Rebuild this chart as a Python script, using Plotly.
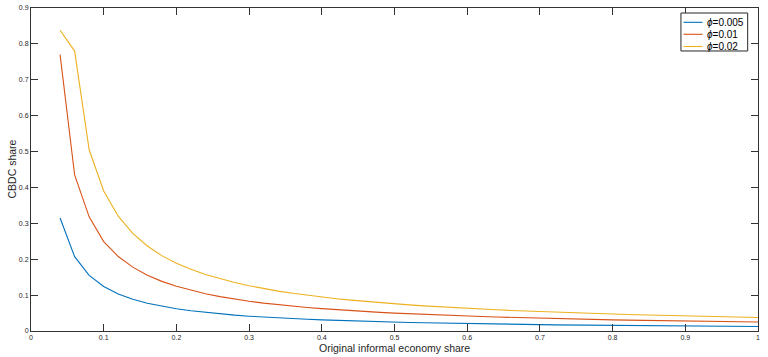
import plotly.graph_objects as go

x_share = [0.04, 0.06, 0.08, 0.10, 0.12, 0.14, 0.16, 0.18, 0.20, 0.22, 0.24, 0.26, 0.28, 0.30,
           0.32, 0.34, 0.36, 0.38, 0.40, 0.42, 0.44, 0.46, 0.48, 0.50, 0.52, 0.54, 0.56, 0.58,
           0.60, 0.62, 0.64, 0.66, 0.68, 0.70, 0.72, 0.74, 0.76, 0.78, 0.80, 0.82, 0.84, 0.86,
           0.88, 0.90, 0.92, 0.94, 0.96, 0.98, 1.00]

phi_0005 = [0.315, 0.207, 0.155, 0.124, 0.103, 0.0886, 0.0775, 0.0689, 0.062, 0.0564, 0.0517,
            0.0477, 0.0443, 0.0413, 0.0388, 0.0365, 0.0344, 0.0326, 0.031, 0.0295, 0.0282,
            0.027, 0.0258, 0.0248, 0.0238, 0.023, 0.0221, 0.0214, 0.0207, 0.02, 0.0194,
            0.0188, 0.0182, 0.0177, 0.0172, 0.0168, 0.0163, 0.0159, 0.0155, 0.0151, 0.0148,
            0.0144, 0.0141, 0.0138, 0.0135, 0.0132, 0.0129, 0.0127, 0.0124]

phi_001 = [0.770, 0.435, 0.318, 0.249, 0.2075, 0.1779, 0.1556, 0.1383, 0.1245, 0.1132, 0.1038,
           0.0958, 0.0889, 0.083, 0.0778, 0.0732, 0.0692, 0.0655, 0.0623, 0.0593, 0.0566,
           0.0541, 0.0519, 0.0498, 0.0479, 0.0461, 0.0445, 0.0429, 0.0415, 0.0402, 0.0389,
           0.0377, 0.0366, 0.0356, 0.0346, 0.0336, 0.0328, 0.0319, 0.0311, 0.0304, 0.0296,
           0.029, 0.0283, 0.0277, 0.0271, 0.0265, 0.0259, 0.0254, 0.0249]

phi_002 = [0.838, 0.780, 0.505, 0.390, 0.320, 0.272, 0.237, 0.21, 0.189, 0.1718, 0.1575,
           0.1454, 0.135, 0.126, 0.1181, 0.1112, 0.105, 0.0995, 0.0945, 0.09, 0.0859,
           0.0822, 0.0788, 0.0756, 0.0727, 0.07, 0.0675, 0.0652, 0.063, 0.061, 0.0591,
           0.0573, 0.0556, 0.054, 0.0525, 0.0511, 0.0497, 0.0485, 0.0473, 0.0461, 0.045,
           0.044, 0.043, 0.042, 0.0411, 0.0402, 0.0394, 0.0386, 0.0378]

series_names = ["<i>ϕ</i>=0.005", "<i>ϕ</i>=0.01", "<i>ϕ</i>=0.02"]
series_vals = [phi_0005, phi_001, phi_002]
colors = ["#0072BD", "#D95319", "#EDB120"]

x_ticks = [0, 0.1, 0.2, 0.3, 0.4, 0.5, 0.6, 0.7, 0.8, 0.9, 1]
x_ticklabels = ["0", "0.1", "0.2", "0.3", "0.4", "0.5", "0.6", "0.7", "0.8", "0.9", "1"]
y_ticks = [0, 0.1, 0.2, 0.3, 0.4, 0.5, 0.6, 0.7, 0.8, 0.9]
y_ticklabels = ["0", "0.1", "0.2", "0.3", "0.4", "0.5", "0.6", "0.7", "0.8", "0.9"]

fig = go.Figure()
for name, vals, c in zip(series_names, series_vals, colors):
    fig.add_trace(go.Scatter(x=x_share, y=vals, mode="lines", name=name,
                             line=dict(color=c, width=1.1), showlegend=False))

axis_common = dict(showgrid=False, zeroline=False, showline=True, linecolor="#333333",
                   linewidth=1, mirror="ticks", ticks="inside", ticklen=7, tickcolor="#333333",
                   automargin=False,
                   tickfont=dict(family="Liberation Sans", size=7, color="#262626"))

fig.update_xaxes(range=[0, 1], tickvals=x_ticks, ticktext=x_ticklabels, **axis_common)
fig.update_yaxes(range=[0, 0.9], tickvals=y_ticks, ticktext=y_ticklabels, **axis_common)

title_font = dict(family="Liberation Sans", size=10.5, color="#262626")
fig.add_annotation(text="Original informal economy share", xref="paper", yref="paper",
                   x=0.5, y=0, yshift=-17, xanchor="center", yanchor="middle",
                   showarrow=False, font=title_font)
fig.add_annotation(text="CBDC share", xref="paper", yref="paper",
                   x=0, y=0.5, xshift=-20, xanchor="center", yanchor="middle",
                   textangle=-90, showarrow=False, font=title_font)

# compact MATLAB-style legend box (paper coordinates)
leg_box = dict(x0=0.894, x1=0.9858, y0=0.8669, y1=0.9845)
leg_rows = [0.9557, 0.9186, 0.8808]
leg_line_x = (0.8975, 0.9237)
leg_text_x = 0.9265
fig.add_shape(type="rect", xref="paper", yref="paper", **leg_box,
              line=dict(color="#262626", width=1), fillcolor="white", layer="above")
for name, c, yr in zip(series_names, colors, leg_rows):
    fig.add_shape(type="line", xref="paper", yref="paper", x0=leg_line_x[0], x1=leg_line_x[1],
                  y0=yr, y1=yr, line=dict(color=c, width=1.1), layer="above")
    fig.add_annotation(text=name, xref="paper", yref="paper", x=leg_text_x, y=yr,
                       xanchor="left", yanchor="middle", showarrow=False,
                       font=dict(family="Liberation Sans", size=10, color="black"))

fig.update_layout(
    width=768, height=357,
    margin=dict(l=31, r=10, t=8, b=26),
    plot_bgcolor="white", paper_bgcolor="white",
    showlegend=False,
)

fig.write_html("out.html", config={"displayModeBar": False},
               post_script="document.body.style.margin='0';")
